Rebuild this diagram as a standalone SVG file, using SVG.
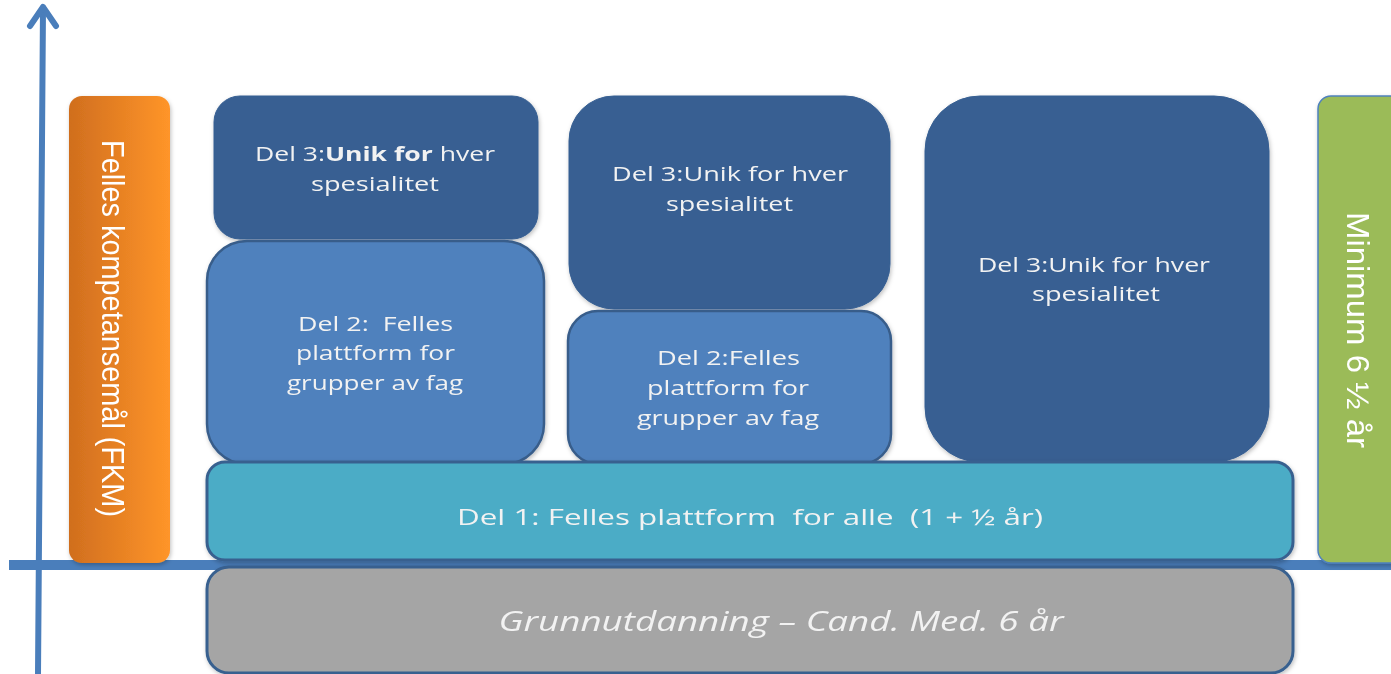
<svg xmlns="http://www.w3.org/2000/svg" width="1391" height="674" viewBox="0 0 1391 674">
<defs>
<linearGradient id="og" x1="0" y1="0" x2="1" y2="0">
<stop offset="0" stop-color="#D06E1E"/>
<stop offset="1" stop-color="#FF9529"/>
</linearGradient>
<filter id="sh" x="-10%" y="-10%" width="120%" height="120%">
<feDropShadow dx="1" dy="2" stdDeviation="2" flood-color="#000" flood-opacity="0.25"/>
</filter>
<style>
.dk{fill:#375F92;stroke:#375F92;stroke-width:1}
.md{fill:#4F81BD;stroke:#385D8A;stroke-width:2.5}
.t{font-family:"Open Sans","Liberation Sans",sans-serif;fill:#F2F2F2;font-size:20px;text-anchor:middle;dominant-baseline:central;white-space:pre}
.v{font-family:"Liberation Sans",Arial,sans-serif;fill:#FFFFFF;font-size:31px;text-anchor:middle}
.l1{font-size:22px}
.gr{font-size:28px;font-style:italic}
</style>
</defs>
<rect width="1391" height="674" fill="#FFFFFF"/>
<g id="axes" stroke="#4A7EBB" fill="none" stroke-linecap="round" stroke-linejoin="round">
<line x1="43" y1="8" x2="38" y2="674" stroke-width="6"/>
<polyline points="30,26 43,7 56,26" stroke-width="6"/>
<line x1="9" y1="565" x2="1391" y2="565" stroke-width="10" stroke-linecap="butt"/>
</g>
<g id="fkm" filter="url(#sh)">
<rect x="69" y="96" width="101" height="467" rx="13" fill="url(#og)"/>
<text class="v" transform="translate(102,328.5) rotate(90)" textLength="377" lengthAdjust="spacingAndGlyphs">Felles kompetansemål (FKM)</text>
</g>
<g id="minimum" filter="url(#sh)">
<rect x="1318" y="96" width="90" height="467" rx="13" fill="#9BBB59" stroke="#4F81BD" stroke-width="1.5"/>
<text class="v" transform="translate(1347,330) rotate(90)" textLength="236" lengthAdjust="spacingAndGlyphs">Minimum 6 ½ år</text>
</g>
<g id="del3a" filter="url(#sh)">
<rect class="dk" x="214" y="96" width="324" height="143" rx="26"/>
<text class="t" x="375" y="153" textLength="240" lengthAdjust="spacingAndGlyphs">Del 3:<tspan font-weight="bold">Unik for</tspan> hver</text>
<text class="t" x="375" y="183" textLength="128" lengthAdjust="spacingAndGlyphs">spesialitet</text>
</g>
<g id="del2a" filter="url(#sh)">
<rect class="md" x="207" y="241" width="337" height="223" rx="40"/>
<text class="t" x="375.5" y="323" textLength="155" lengthAdjust="spacingAndGlyphs">Del 2:  Felles</text>
<text class="t" x="375.5" y="352" textLength="159" lengthAdjust="spacingAndGlyphs">plattform for</text>
<text class="t" x="375" y="382" textLength="176" lengthAdjust="spacingAndGlyphs">grupper av fag</text>
</g>
<g id="del3b" filter="url(#sh)">
<rect class="dk" x="569" y="96" width="321" height="213" rx="45"/>
<text class="t" x="730" y="173" textLength="236" lengthAdjust="spacingAndGlyphs">Del 3:Unik for hver</text>
<text class="t" x="729.5" y="203" textLength="127" lengthAdjust="spacingAndGlyphs">spesialitet</text>
</g>
<g id="del2b" filter="url(#sh)">
<rect class="md" x="568" y="311" width="323" height="153" rx="30"/>
<text class="t" x="728.5" y="357" textLength="143" lengthAdjust="spacingAndGlyphs">Del 2:Felles</text>
<text class="t" x="728" y="387" textLength="162" lengthAdjust="spacingAndGlyphs">plattform for</text>
<text class="t" x="728" y="417" textLength="182" lengthAdjust="spacingAndGlyphs">grupper av fag</text>
</g>
<g id="del3c" filter="url(#sh)">
<rect class="dk" x="925" y="96" width="344" height="366" rx="55"/>
<text class="t" x="1094" y="264" textLength="232" lengthAdjust="spacingAndGlyphs">Del 3:Unik for hver</text>
<text class="t" x="1096" y="293" textLength="128" lengthAdjust="spacingAndGlyphs">spesialitet</text>
</g>
<g id="del1" filter="url(#sh)">
<rect x="207" y="462" width="1086" height="98" rx="18" fill="#4BACC6" stroke="#37608F" stroke-width="3"/>
<text class="t l1" x="750" y="516" textLength="586" lengthAdjust="spacingAndGlyphs">Del 1: Felles plattform  for alle  (1 + ½ år)</text>
</g>
<g id="grunn" filter="url(#sh)">
<rect x="207" y="567" width="1086" height="106" rx="22" fill="#A5A5A5" stroke="#37608F" stroke-width="3"/>
<text class="t gr" x="781" y="620" textLength="565" lengthAdjust="spacingAndGlyphs">Grunnutdanning – Cand. Med. 6 år</text>
</g>
</svg>
